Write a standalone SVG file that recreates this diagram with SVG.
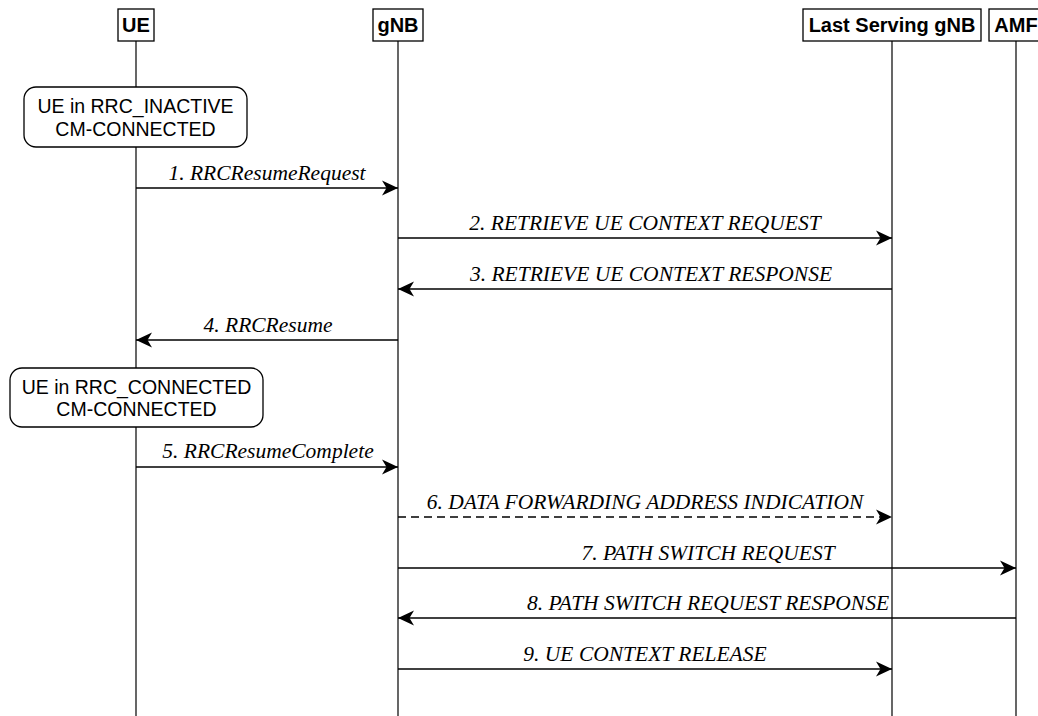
<svg xmlns="http://www.w3.org/2000/svg" width="1038" height="716" viewBox="0 0 1038 716">
<defs>
<style>
.hdr{fill:#fff;stroke:#000;stroke-width:1.3}
.hdrt{font-family:"Liberation Sans",Arial,sans-serif;font-weight:bold;font-size:20px;text-anchor:middle;fill:#000}
.life{stroke:#000;stroke-width:1.2;fill:none}
.state{fill:#fff;stroke:#000;stroke-width:1.3}
.statet{font-family:"Liberation Sans",Arial,sans-serif;font-size:19.5px;text-anchor:middle;fill:#000}
.msg{stroke:#000;stroke-width:1.3;fill:none}
.dash{stroke-dasharray:8 5}
.lbl{font-family:"Liberation Serif","Times New Roman",serif;font-style:italic;font-size:21.5px;text-anchor:middle;fill:#000}
</style>
<marker id="ah" viewBox="0 0 17 16" refX="16" refY="8" markerWidth="17" markerHeight="16" markerUnits="userSpaceOnUse" orient="auto">
<path d="M16,8 L0,0.5 L4.5,8 L0,15.5 Z" fill="#000"/>
</marker>
</defs>

<g id="lifelines">
<line class="life" x1="136" y1="41" x2="136" y2="716"/>
<line class="life" x1="398" y1="41" x2="398" y2="716"/>
<line class="life" x1="892" y1="41" x2="892" y2="716"/>
<line class="life" x1="1016" y1="41" x2="1016" y2="716"/>
</g>

<g id="node-ue">
<rect class="hdr" x="118" y="9" width="36" height="32"/>
<text class="hdrt" x="136" y="32">UE</text>
</g>
<g id="node-gnb">
<rect class="hdr" x="373" y="9" width="50" height="32"/>
<text class="hdrt" x="398" y="32">gNB</text>
</g>
<g id="node-lastgnb">
<rect class="hdr" x="803" y="9" width="178" height="32"/>
<text class="hdrt" x="892" y="32">Last Serving gNB</text>
</g>
<g id="node-amf">
<rect class="hdr" x="989" y="9" width="54" height="32"/>
<text class="hdrt" x="1016" y="32">AMF</text>
</g>

<g id="state-inactive">
<rect class="state" x="24" y="87" width="223" height="60" rx="12" ry="12"/>
<text class="statet" x="135.5" y="113">UE in RRC_INACTIVE</text>
<text class="statet" x="135.5" y="136">CM-CONNECTED</text>
</g>
<g id="state-connected">
<rect class="state" x="10" y="368" width="253" height="59" rx="12" ry="12"/>
<text class="statet" x="136.5" y="394">UE in RRC_CONNECTED</text>
<text class="statet" x="136.5" y="416">CM-CONNECTED</text>
</g>

<g id="connectors">
<line class="msg" x1="136" y1="188" x2="398" y2="188" marker-end="url(#ah)"/>
<text class="lbl" x="267" y="180">1. RRCResumeRequest</text>

<line class="msg" x1="398" y1="238" x2="892" y2="238" marker-end="url(#ah)"/>
<text class="lbl" x="645" y="230">2. RETRIEVE UE CONTEXT REQUEST</text>

<line class="msg" x1="892" y1="289" x2="398" y2="289" marker-end="url(#ah)"/>
<text class="lbl" x="651" y="281">3. RETRIEVE UE CONTEXT RESPONSE</text>

<line class="msg" x1="398" y1="340" x2="136" y2="340" marker-end="url(#ah)"/>
<text class="lbl" x="268" y="332">4. RRCResume</text>

<line class="msg" x1="136" y1="467" x2="398" y2="467" marker-end="url(#ah)"/>
<text class="lbl" x="268" y="458">5. RRCResumeComplete</text>

<line class="msg dash" x1="398" y1="517" x2="892" y2="517" marker-end="url(#ah)"/>
<text class="lbl" x="645" y="509">6. DATA FORWARDING ADDRESS INDICATION</text>

<line class="msg" x1="398" y1="568" x2="1016" y2="568" marker-end="url(#ah)"/>
<text class="lbl" x="708" y="560">7. PATH SWITCH REQUEST</text>

<line class="msg" x1="1016" y1="618" x2="398" y2="618" marker-end="url(#ah)"/>
<text class="lbl" x="708" y="610">8. PATH SWITCH REQUEST RESPONSE</text>

<line class="msg" x1="398" y1="669" x2="892" y2="669" marker-end="url(#ah)"/>
<text class="lbl" x="645" y="661">9. UE CONTEXT RELEASE</text>
</g>
</svg>
